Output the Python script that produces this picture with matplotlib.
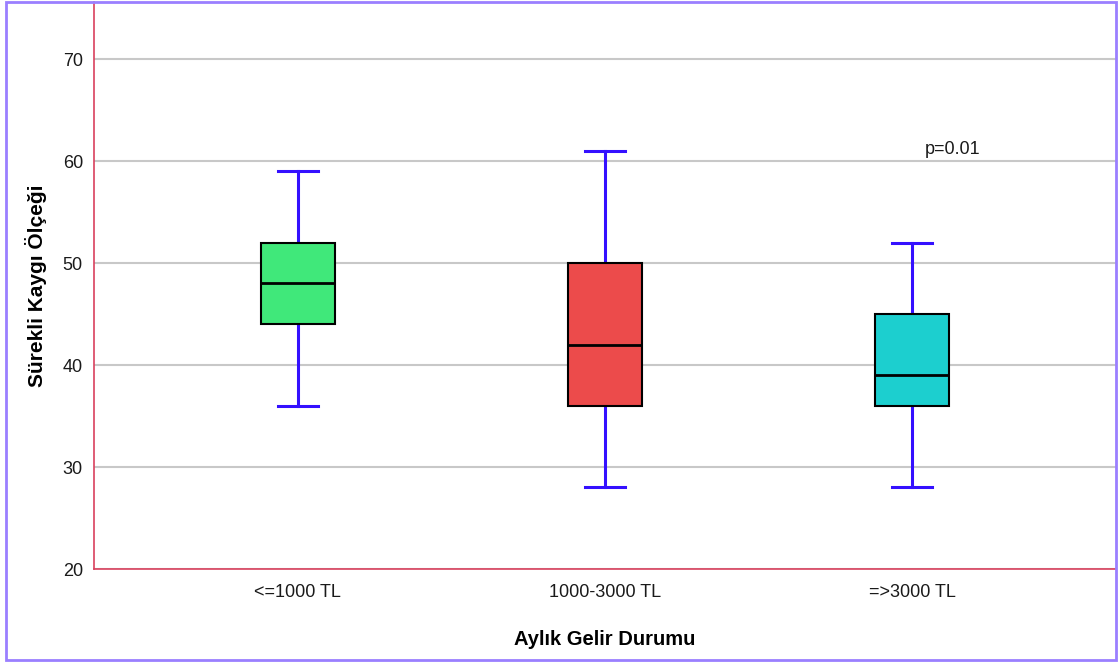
import matplotlib.pyplot as plt
from matplotlib.patches import Rectangle

groups = ["<=1000 TL", "1000-3000 TL", "=>3000 TL"]
whislo = [36, 28, 28]
q1 = [44, 36, 36]
med = [48, 42, 39]
q3 = [52, 50, 45]
whishi = [59, 61, 52]
box_colors = ["#40e87a", "#ec4b4b", "#1ccfcf"]
p_text = "p=0.01"

plt.rcParams['font.family'] = ['Liberation Sans', 'DejaVu Sans']

fig = plt.figure(figsize=(11.19, 6.64), dpi=100)
ax = fig.add_axes([94/1119, 1 - 569/664, (1116-94)/1119, (569-2)/664])

stats = []
for i in range(len(groups)):
    stats.append({"whislo": whislo[i], "q1": q1[i], "med": med[i],
                  "q3": q3[i], "whishi": whishi[i], "fliers": [], "label": groups[i]})

bp = ax.bxp(stats, positions=range(len(groups)), widths=0.24, patch_artist=True,
            showfliers=False,
            boxprops=dict(edgecolor="black", linewidth=1.5, zorder=4),
            medianprops=dict(color="black", linewidth=2, zorder=5),
            whiskerprops=dict(color="#3410ff", linewidth=2.2, zorder=3),
            capprops=dict(color="#3410ff", linewidth=2.2, zorder=3),
            capwidths=0.13)
for patch, c in zip(bp["boxes"], box_colors):
    patch.set_facecolor(c)

ax.set_xlim(-0.664, 2.664)
ax.set_ylim(20, 75.6)
ax.set_yticks([20, 30, 40, 50, 60, 70])
ax.yaxis.grid(True, color="#c8c8c8", linewidth=1.5, zorder=0)
ax.set_axisbelow(True)
ax.tick_params(axis="both", length=0, labelsize=13, colors="#1a1a1a")
ax.tick_params(axis="x", pad=10.5)
ax.tick_params(axis="y", pad=8)

for s in ["top", "right"]:
    ax.spines[s].set_visible(False)
for s in ["left", "bottom"]:
    ax.spines[s].set_color("#d9415e")
    ax.spines[s].set_linewidth(1.2)

ax.set_xlabel("Aylık Gelir Durumu", fontsize=14.5, fontweight="bold", labelpad=21)
ax.set_ylabel("Sürekli Kaygı Ölçeği", fontsize=15, fontweight="bold", labelpad=11)

ax.text(2.131, 61.1, p_text, ha="center", va="center", fontsize=13, color="#1a1a1a")

# purple frame around the whole chart
fig.patches.append(Rectangle((6/1119, 4/664), (1116-6)/1119, (662-4)/664,
                             transform=fig.transFigure, fill=False,
                             edgecolor="#9a7fff", linewidth=2))

fig.savefig("out.png", dpi=100)
